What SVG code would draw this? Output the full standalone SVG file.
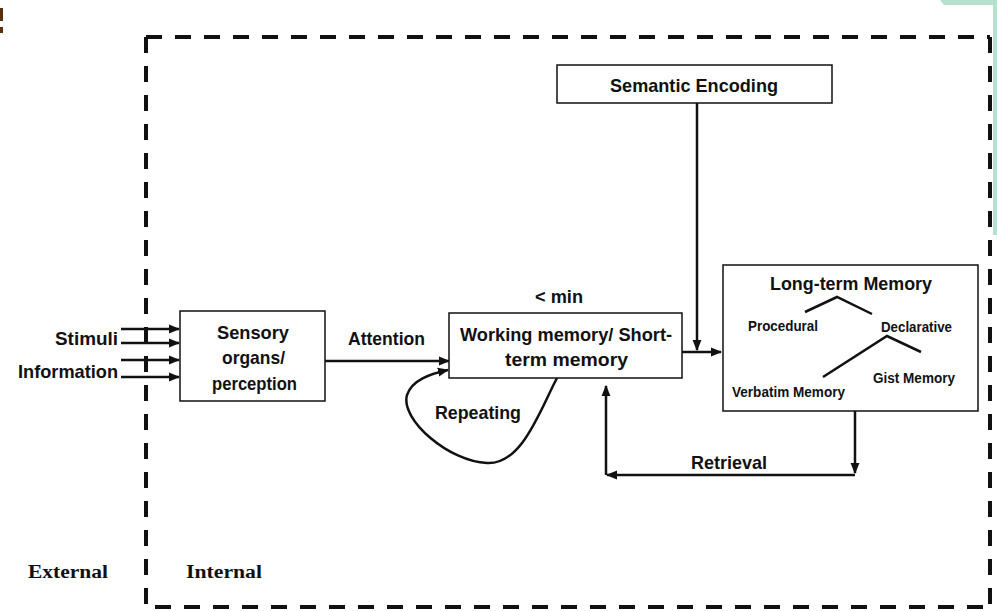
<svg xmlns="http://www.w3.org/2000/svg" width="997" height="611" viewBox="0 0 997 611">
<style>
.box{fill:#fff;stroke:#111;stroke-width:1.5}
.t{font-family:"Liberation Sans",Arial,sans-serif;font-weight:bold;fill:#111;font-size:19px}
.s{font-family:"Liberation Sans",Arial,sans-serif;font-weight:bold;fill:#111;font-size:14.5px}
.serif{font-family:"Liberation Serif","Times New Roman",serif;font-weight:bold;fill:#111;font-size:18px}
.ln{fill:none;stroke:#111;stroke-width:2.5}
.br{fill:none;stroke:#111;stroke-width:2.5}
.dash{fill:none;stroke:#111;stroke-width:4;stroke-dasharray:16 13}
</style>
<defs>
<marker id="ah" viewBox="0 0 10 10" refX="9" refY="5" markerWidth="4.5" markerHeight="4.5" orient="auto" markerUnits="strokeWidth">
<path d="M0,1 L10,5 L0,9 z" fill="#111"/>
</marker>
</defs>
<rect width="997" height="611" fill="#fff"/>
<polygon points="940,0 997,0 997,235 993,235 993,5 944,5" fill="#b5e2cf"/>
<rect x="0" y="8" width="3" height="13" fill="#5a3010"/>
<rect x="0" y="27" width="3" height="6" fill="#5a3010"/>
<g id="boundary">
<path class="dash" d="M146,37 H990"/>
<path class="dash" d="M146,37 V611"/>
<path class="dash" d="M990,37 V611"/>
<path class="dash" d="M155,607 H990"/>
</g>
<g id="connectors">
<path class="ln" d="M121,329 H179" marker-end="url(#ah)"/>
<path class="ln" d="M121,343 H179" marker-end="url(#ah)"/>
<path class="ln" d="M121,360 H179" marker-end="url(#ah)"/>
<path class="ln" d="M121,377 H179" marker-end="url(#ah)"/>
<path class="ln" d="M325,361 H449" marker-end="url(#ah)"/>
<path class="ln" d="M557,378 C540,410 522,465 487,463 C450,462 400,420 407,395 C412,380 430,374 448,370" marker-end="url(#ah)"/>
<path class="ln" d="M682,352 H721" marker-end="url(#ah)"/>
<path class="ln" d="M697,103 V350" marker-end="url(#ah)"/>
<path class="ln" d="M855,411 V473" marker-end="url(#ah)"/>
<path class="ln" d="M855,475 H607" marker-end="url(#ah)"/>
<path class="ln" d="M606,475 V386" marker-end="url(#ah)"/>
</g>
<g id="labels">
<text class="t" x="118" y="345" text-anchor="end" textLength="63" lengthAdjust="spacingAndGlyphs">Stimuli</text>
<text class="t" x="118" y="378" text-anchor="end" textLength="100" lengthAdjust="spacingAndGlyphs">Information</text>
<text class="t" x="348" y="345" textLength="77" lengthAdjust="spacingAndGlyphs">Attention</text>
<text class="t" x="535" y="303" textLength="48" lengthAdjust="spacingAndGlyphs">&lt; min</text>
<text class="t" x="435" y="419" textLength="86" lengthAdjust="spacingAndGlyphs">Repeating</text>
<text class="t" x="691" y="469" textLength="76" lengthAdjust="spacingAndGlyphs">Retrieval</text>
<text class="serif" x="28" y="578" textLength="80" lengthAdjust="spacingAndGlyphs">External</text>
<text class="serif" x="186" y="578" textLength="76" lengthAdjust="spacingAndGlyphs">Internal</text>
</g>
<g id="sensory">
<rect class="box" x="180" y="311" width="145" height="90"/>
<text class="t" x="217" y="339" textLength="72" lengthAdjust="spacingAndGlyphs">Sensory</text>
<text class="t" x="222" y="364" textLength="63" lengthAdjust="spacingAndGlyphs">organs/</text>
<text class="t" x="212" y="390" textLength="85" lengthAdjust="spacingAndGlyphs">perception</text>
</g>
<g id="working-memory">
<rect class="box" x="449" y="313" width="233" height="65"/>
<text class="t" x="460" y="341" textLength="212" lengthAdjust="spacingAndGlyphs">Working memory/ Short-</text>
<text class="t" x="505" y="366" textLength="123" lengthAdjust="spacingAndGlyphs">term memory</text>
</g>
<g id="semantic-encoding">
<rect class="box" x="557" y="65" width="275" height="38"/>
<text class="t" x="610" y="92" textLength="168" lengthAdjust="spacingAndGlyphs">Semantic Encoding</text>
</g>
<g id="long-term-memory">
<rect class="box" x="723" y="265" width="255" height="146"/>
<text class="t" x="770" y="290" textLength="162" lengthAdjust="spacingAndGlyphs">Long-term Memory</text>
<path class="br" d="M805,312 L837,297 L872,314"/>
<text class="s" x="748" y="331" textLength="70" lengthAdjust="spacingAndGlyphs">Procedural</text>
<text class="s" x="881" y="332" textLength="71" lengthAdjust="spacingAndGlyphs">Declarative</text>
<path class="br" d="M823,377 L887,336 L921,352"/>
<text class="s" x="873" y="383" textLength="82" lengthAdjust="spacingAndGlyphs">Gist Memory</text>
<text class="s" x="732" y="397" textLength="113" lengthAdjust="spacingAndGlyphs">Verbatim Memory</text>
</g>
</svg>
